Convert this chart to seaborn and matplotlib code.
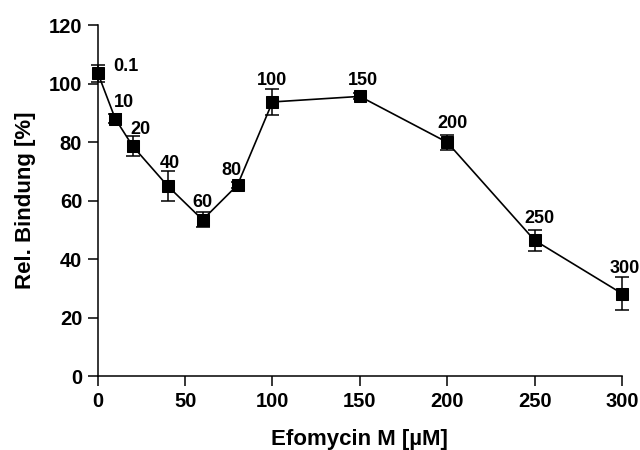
import matplotlib
matplotlib.use("Agg")
import matplotlib.pyplot as plt
import seaborn as sns
import pandas as pd

conc = [0.1, 10, 20, 40, 60, 80, 100, 150, 200, 250, 300]
binding = [103.5, 88.0, 78.6, 65.0, 53.4, 65.3, 93.7, 95.6, 79.9, 46.4, 28.2]
err = [3.0, 1.5, 3.3, 5.0, 2.6, 1.0, 4.3, 1.0, 2.5, 3.5, 5.6]
labels = ["0.1", "10", "20", "40", "60", "80", "100", "150", "200", "250", "300"]
label_dx = [28, 9, 8, 2, 0, -6, 0, 3, 5, 5, 3]
label_dy = [7, 16, 17, 22, 17, 15, 21, 16, 19, 22, 25]

xticks = [0, 50, 100, 150, 200, 250, 300]
yticks = [0, 20, 40, 60, 80, 100, 120]

sns.set_style("ticks")
plt.rcParams['font.family'] = ['Liberation Sans', 'DejaVu Sans']
plt.rcParams['font.weight'] = 'bold'
for k in ['text.color', 'axes.labelcolor', 'xtick.color', 'ytick.color',
          'axes.edgecolor', 'xtick.labelcolor', 'ytick.labelcolor']:
    plt.rcParams[k] = 'black'

df = pd.DataFrame({"conc": conc, "binding": binding})

fig = plt.figure(figsize=(6.4, 4.5), dpi=100)
ax = fig.add_axes([0.1527, 0.1644, 0.9718 - 0.1527, 0.9444 - 0.1644])

ax.errorbar(conc, binding, yerr=err, fmt='none', ecolor='black',
            elinewidth=1.1, capsize=4.7, capthick=1.1, clip_on=False, zorder=3)
sns.lineplot(data=df, x="conc", y="binding", ax=ax, color='black',
             linewidth=1.2, marker='s', markersize=8.3, markeredgecolor='black',
             markerfacecolor='black', clip_on=False, zorder=4)

for x, y, t, dx, dy in zip(conc, binding, labels, label_dx, label_dy):
    ax.annotate(t, (x, y), xytext=(dx, dy), textcoords='offset pixels',
                ha='center', va='center', fontsize=13, fontweight='bold',
                color='black', annotation_clip=False)

ax.set_xlim(0, 300)
ax.set_ylim(0, 120)
ax.set_xticks(xticks)
ax.set_yticks(yticks)
ax.tick_params(axis='both', direction='out', length=7.2, width=1.1,
               labelsize=14.5, pad=4, color='black', labelcolor='black')
for lbl in ax.get_xticklabels() + ax.get_yticklabels():
    lbl.set_fontweight('bold')
for s in ['left', 'bottom']:
    ax.spines[s].set_linewidth(1.1)
    ax.spines[s].set_color('black')
ax.spines['top'].set_visible(False)
ax.spines['right'].set_visible(False)

ax.set_xlabel("Efomycin M [µM]", fontsize=16, fontweight='bold', labelpad=13,
              color='black')
ax.set_ylabel("Rel. Bindung [%]", fontsize=16, fontweight='bold', labelpad=9,
              color='black')

fig.savefig("out.png", dpi=100)
